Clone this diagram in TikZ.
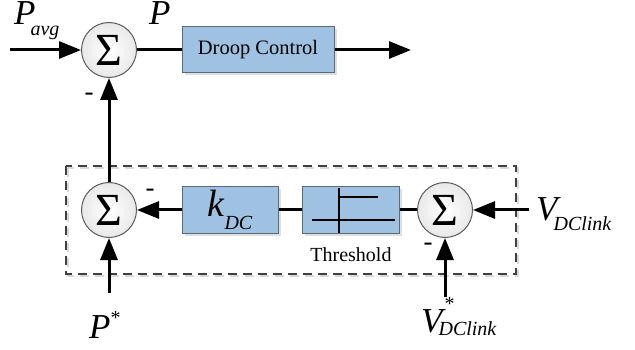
\documentclass[tikz,border=0pt]{standalone}
\usepackage{fontspec}
\setmainfont{Liberation Serif}
\usetikzlibrary{arrows.meta, shadows}
\definecolor{blockfill}{RGB}{160,194,226}
\definecolor{blockdraw}{RGB}{88,106,124}
\definecolor{sumdraw}{RGB}{90,90,90}
\definecolor{groupdraw}{RGB}{64,64,64}
\newcommand{\bigit}[1]{{\fontsize{35}{35}\selectfont\itshape #1}}
\newcommand{\subit}[2][-10pt]{\raisebox{#1}{\fontsize{20}{20}\selectfont\itshape #2}}
\newcommand{\supstar}[1][14pt]{\raisebox{#1}{\fontsize{20}{20}\selectfont *}}
\tikzset{
    sumnode/.style = {
        circle, draw=sumdraw, line width=1pt,
        inner color=white, outer color=gray!18,
        minimum size=55pt, inner sep=0pt,
        font=\fontsize{46}{46}\selectfont
    },
    block/.style = {
        rectangle, draw=blockdraw, line width=1pt,
        fill=blockfill, minimum height=46pt, inner sep=0pt,
        drop shadow={shadow xshift=2.5pt, shadow yshift=-2.5pt, fill=gray!35, opacity=0.7}
    },
    arrow/.style = {
        -{Triangle[length=22pt,width=17pt]}, line width=3pt
    },
    wire/.style = {
        line width=3pt
    },
    minus/.style = {
        font=\fontsize{27}{27}\selectfont, inner sep=0pt
    },
    groupbox/.style = {
        draw=groupdraw, line width=1.5pt, dash pattern=on 9pt off 6pt
    }
}
\begin{document}
\begin{tikzpicture}[x=1pt, y=-1pt, node distance=45pt]
\useasboundingbox (0,0) rectangle (635,350);

% dashed group round the DC-link loop
\draw [groupbox, draw=gray!30] (68,168) rectangle (518,276);
\draw [groupbox] (66,166) rectangle (516,274);

\node (sumP) [sumnode] at (109,50) {Σ};
\node (droop) [block, minimum width=152pt, font=\fontsize{20.5}{20.5}\selectfont] at (258,50) {Droop Control};
\node (sumL) [sumnode] at (109,210) {Σ};
\node (kdc) [block, minimum width=96pt] at (230,210) {{\fontsize{38}{38}\selectfont\itshape k}\subit[-13pt]{DC}};
\node (thr) [block, minimum width=97pt] at (351,210) {};
\node (thrlbl) [below of=thr, font=\fontsize{20}{20}\selectfont] {Threshold};
\node (sumR) [sumnode] at (445,210) {Σ};

% threshold characteristic
\draw [line width=1.2pt] (339,188) -- (339,233);
\draw [line width=1.2pt] (339,197) -- (378,197);
\draw [line width=1.2pt] (312,220) -- (395,220);

\coordinate (pavgin) at (10,50);
\coordinate (pout) at (411,50);
\coordinate (pstarin) at (109,293);
\coordinate (vin) at (529,210);
\coordinate (vstarin) at (445,297);

\node (pavglbl) [anchor=base west, inner sep=0pt] at (14,25) {\bigit{P}\kern-5pt\subit[-11pt]{avg}};
\node (plbl) [anchor=base west, inner sep=0pt] at (149,25) {\bigit{P}};
\node (pstarlbl) [anchor=base west, inner sep=0pt] at (89,338) {\bigit{P}\supstar};
\node (vlbl) [anchor=base west, inner sep=0pt] at (536,220) {\bigit{V}\kern-4pt\subit{DClink}};
\node (vstarlbl) [anchor=base west, inner sep=0pt] at (421,332) {\bigit{V}\rlap{\kern2pt\supstar[22pt]}\kern-4pt\subit[-3pt]{DClink}};

\node (m1) [minus] at (89,97) {-};
\node (m2) [minus] at (150,193) {-};
\node (m3) [minus] at (428,247) {-};

\draw [arrow] (pavgin) -- (sumP.west);
\draw [wire] (sumP.east) -- (droop.west);
\draw [arrow] (droop.east) -- (pout);
\draw [arrow] (sumL.north) -- (sumP.south);
\draw [arrow] (kdc.west) -- (sumL.east);
\draw [wire] (thr.west) -- (kdc.east);
\draw [wire] (sumR.west) -- (thr.east);
\draw [arrow] (vin) -- (sumR.east);
\draw [arrow] (vstarin) -- (sumR.south);
\draw [arrow] (pstarin) -- (sumL.south);

\end{tikzpicture}
\end{document}
